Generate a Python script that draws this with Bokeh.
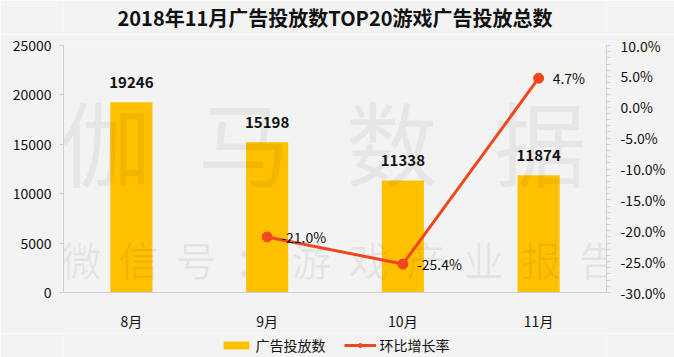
from bokeh.plotting import figure
from bokeh.layouts import column
from bokeh.models import (ColumnDataSource, Range1d, LinearAxis, NumeralTickFormatter,
                          Legend, LegendItem, FixedTicker)
from bokeh.core.properties import value
from bokeh.embed import file_html
from bokeh.resources import INLINE

title_text = "2018年11月广告投放数TOP20游戏广告投放总数"
months = ["8月", "9月", "10月", "11月"]
ad_counts = [19246, 15198, 11338, 11874]
growth_months = ["9月", "10月", "11月"]
growth = [-0.210, -0.254, 0.047]
growth_labels = ["-21.0%", "-25.4%", "4.7%"]
series_names = ["广告投放数", "环比增长率"]

FONT = "Noto Sans CJK SC"
BG = "#F3F3F3"
BAR = "#FFC000"
LINE = "#F0471F"
AXIS = "#D0D0D0"


def blank(h):
    f = figure(width=674, height=h, x_range=Range1d(0, 1), y_range=Range1d(0, 1),
               output_backend="svg", toolbar_location=None, min_border=0,
               x_axis_type=None, y_axis_type=None,
               background_fill_color=BG, border_fill_color=BG)
    f.outline_line_color = None
    return f


# ---- title strip
pt = blank(34)
pt.text(x=[0.5], y=[0.5], text=[title_text], text_font=value(FONT), text_font_size="20px",
        text_font_style="bold", text_align="center", text_baseline="middle",
        text_color="#111111")

# ---- main chart
pos = {m: i + 0.5 for i, m in enumerate(months)}

p = figure(width=674, height=299, x_range=Range1d(0, len(months)), y_range=Range1d(0, 25000),
           output_backend="svg", toolbar_location=None,
           background_fill_color=BG, border_fill_color=BG,
           min_border_left=63, min_border_right=68, min_border_top=11, min_border_bottom=37)
p.outline_line_color = None
p.xgrid.visible = False
p.ygrid.visible = False

p.extra_y_ranges = {"pct": Range1d(-0.30, 0.10), "wm": Range1d(0, 1)}

# watermark (decoration)
wm_big = ["伽", "马", "数", "据"]
wm_big_x = [0.31, 1.33, 2.42, 3.51]
wm_small = list("微信号：游戏产业报告")
wm_small_x = [0.13 + i * 0.4236 for i in range(len(wm_small))]

src = ColumnDataSource(dict(x=[pos[m] for m in months], v=ad_counts,
                            lbl=[str(v) for v in ad_counts]))
p.vbar(x="x", top="v", width=0.31, source=src, color=BAR, line_color=None)
p.text(x="x", y="v", text="lbl", source=src, text_font=value(FONT), text_font_size="15px",
       text_font_style="bold", text_align="center", text_baseline="bottom", y_offset=-14,
       text_color="#111111")

p.text(x=wm_big_x, y=[0.62] * len(wm_big), text=wm_big, y_range_name="wm",
       text_font=value(FONT), text_font_size="92px", text_align="center",
       text_baseline="middle", text_color="#000000", text_alpha=0.05)
p.text(x=wm_small_x, y=[0.135] * len(wm_small), text=wm_small, y_range_name="wm",
       text_font=value(FONT), text_font_size="40px", text_align="center",
       text_baseline="middle", text_color="#000000", text_alpha=0.06)

gsrc = ColumnDataSource(dict(x=[pos[m] for m in growth_months], g=growth, lbl=growth_labels))
p.line(x="x", y="g", source=gsrc, y_range_name="pct", color=LINE, line_width=3)
p.scatter(x="x", y="g", source=gsrc, y_range_name="pct", size=10, color=LINE)
p.text(x="x", y="g", text="lbl", source=gsrc, y_range_name="pct", text_font=value(FONT),
       text_font_size="14px", text_align="left", text_baseline="middle", x_offset=14,
       text_color="#111111")

ax = p.yaxis[0]
ax.ticker = FixedTicker(ticks=[0, 5000, 10000, 15000, 20000, 25000])
ax.axis_line_color = AXIS
ax.major_tick_line_color = AXIS
ax.major_tick_out = 4
ax.major_tick_in = 0
ax.minor_tick_line_color = None
ax.major_label_text_font = FONT
ax.major_label_text_font_size = "14px"
ax.major_label_text_color = "#111111"
ax.major_label_standoff = 8

rax = LinearAxis(y_range_name="pct", formatter=NumeralTickFormatter(format="0.0%"))
rax.ticker = FixedTicker(ticks=[-0.30, -0.25, -0.20, -0.15, -0.10, -0.05, 0.0, 0.05, 0.10],
                         minor_ticks=[-0.30 + i * 0.01 for i in range(41)])
rax.axis_line_color = AXIS
rax.major_tick_line_color = AXIS
rax.minor_tick_line_color = AXIS
rax.major_tick_out = 4
rax.major_tick_in = 0
rax.minor_tick_out = 4
rax.minor_tick_in = 0
rax.major_label_text_font = FONT
rax.major_label_text_font_size = "14px"
rax.major_label_text_color = "#111111"
rax.major_label_standoff = 10
p.add_layout(rax, "right")

xa = p.xaxis[0]
xa.ticker = FixedTicker(ticks=[pos[m] for m in months])
xa.major_label_overrides = {pos[m]: m for m in months}
xa.axis_line_color = AXIS
xa.major_tick_line_color = None
xa.minor_tick_line_color = None
xa.major_label_text_font = FONT
xa.major_label_text_font_size = "14px"
xa.major_label_text_color = "#111111"
xa.major_label_standoff = 12

# ---- legend strip (proxy renderers placed outside the visible range)
pl = blank(24)
lb = pl.vbar(x=[5], top=[5], bottom=[4], width=0.3, color=BAR, line_color=None)
ll = pl.line(x=[5, 6], y=[5, 5], color=LINE, line_width=3)
ls = pl.scatter(x=[5], y=[5], size=10, color=LINE)
legend = Legend(items=[LegendItem(label=series_names[0], renderers=[lb]),
                       LegendItem(label=series_names[1], renderers=[ll, ls])],
                orientation="horizontal", location="center",
                background_fill_alpha=0, border_line_color=None,
                label_text_font=FONT, label_text_font_size="14px", label_text_color="#111111",
                glyph_width=32, glyph_height=10, spacing=18, padding=0, margin=0,
                label_standoff=4, label_height=16)
pl.add_layout(legend)

layout = column(pt, p, pl, spacing=0)
open("out.html", "w").write(file_html(layout, INLINE))
